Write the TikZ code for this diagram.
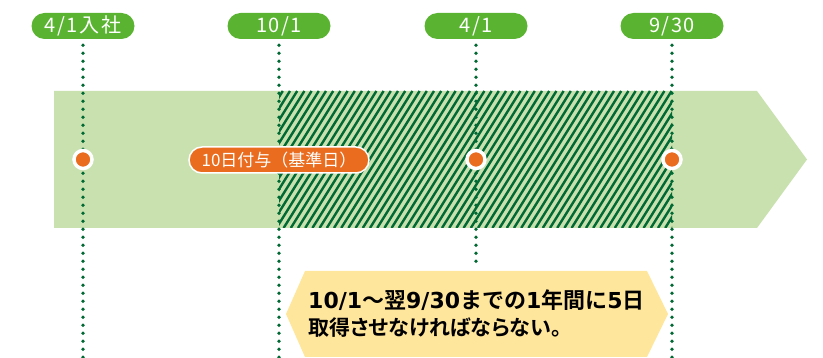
\documentclass[tikz,border=0pt]{standalone}
\usepackage{fontspec}
\setmainfont{Noto Sans CJK JP}[BoldFont={Noto Sans CJK JP Bold}]
\newfontfamily\labelfont{Noto Sans CJK JP}[LetterSpace=8]
\newfontfamily\notefont{Noto Sans CJK JP Bold}[RawFeature=+palt]
\newfontfamily\noteplain{Noto Sans CJK JP Bold}
\newfontfamily\notedigits{DejaVu Sans}
\newcommand{\nd}[1]{{\notedigits\bfseries #1}}
\usepackage{tikz}
\usetikzlibrary{positioning, calc}
\definecolor{pillgreen}{RGB}{90, 180, 49}
\definecolor{bandgreen}{RGB}{201, 225, 175}
\definecolor{darkgreen}{RGB}{0, 105, 52}
\definecolor{mainorange}{RGB}{234, 108, 31}
\definecolor{noteyellow}{RGB}{255, 230, 157}

\begin{document}
\begin{tikzpicture}[x=1pt, y=-1pt,
    datelabel/.style={fill=pillgreen, text=white, rounded corners=13pt, minimum width=103pt, minimum height=26pt, inner sep=0pt, font=\labelfont\fontsize{20}{20}\selectfont},
    dotline/.style={darkgreen, line width=3.8pt, line cap=round, dash pattern=on 0pt off 8pt},
    hatchline/.style={darkgreen, line width=2.4pt},
    eventdot/.style={circle, fill=mainorange, draw=white, line width=3.5pt, minimum size=18pt, inner sep=0pt},
    grantlabel/.style={fill=mainorange, draw=white, line width=1.5pt, text=white, rounded corners=13pt, minimum width=180pt, minimum height=26pt, inner sep=0pt, font=\fontsize{17}{17}\selectfont}]
    \useasboundingbox (0,0) rectangle (823,358);
    % Band arrow
    \fill[bandgreen] (54,91) -- (757,91) -- (807,159.5) -- (757,228) -- (54,228) -- cycle;
    % Hatched period
    \begin{scope}
        \clip (279,91) rectangle (672,228);
        \foreach \x in {190,197.2,...,680}
            \draw[hatchline] (\x,228) -- ++(85.6,-137);
    \end{scope}
    % Date labels
    \node[datelabel] (hire) at (83,26) {4/1入社};
    \node[datelabel] (grant) at (279,26) {10/1};
    \node[datelabel] (april) at (476,26) {4/1};
    \node[datelabel] (limit) at (672,26) {9/30};
    % Dotted lines
    \coordinate (hireend) at (83,358);
    \coordinate (grantend) at (279,358);
    \coordinate (aprilend) at (476,266);
    \coordinate (limitend) at (672,358);
    \draw[dotline, shorten <=6pt] (hire.south) -- (hireend);
    \draw[dotline, shorten <=6pt] (grant.south) -- (grantend);
    \draw[dotline, shorten <=6pt] (april.south) -- (aprilend);
    \draw[dotline, shorten <=6pt] (limit.south) -- (limitend);
    % Event dots
    \node[eventdot] (hiredot) at (83,159.5) {};
    \node[eventdot] (aprildot) at (476,159.5) {};
    \node[eventdot] (limitdot) at (672,159.5) {};
    \node[grantlabel] (grantday) at (279,160) {10日付与（基準日）};
    % Note box
    \fill[noteyellow] (286,314) -- (305,271) -- (647,271) -- (668,314) -- (647,357) -- (305,357) -- cycle;
    \node[anchor=west, align=left, inner sep=0pt, font=\fontsize{21}{27}\selectfont] (note) at (308,314)
        {{\noteplain\fontsize{22}{27}\selectfont\nd{10/1}～翌\nd{9/30}までの\nd{1}年間に\nd{5}日}\\\notefont 取得させなければならない。};
\end{tikzpicture}
\end{document}
